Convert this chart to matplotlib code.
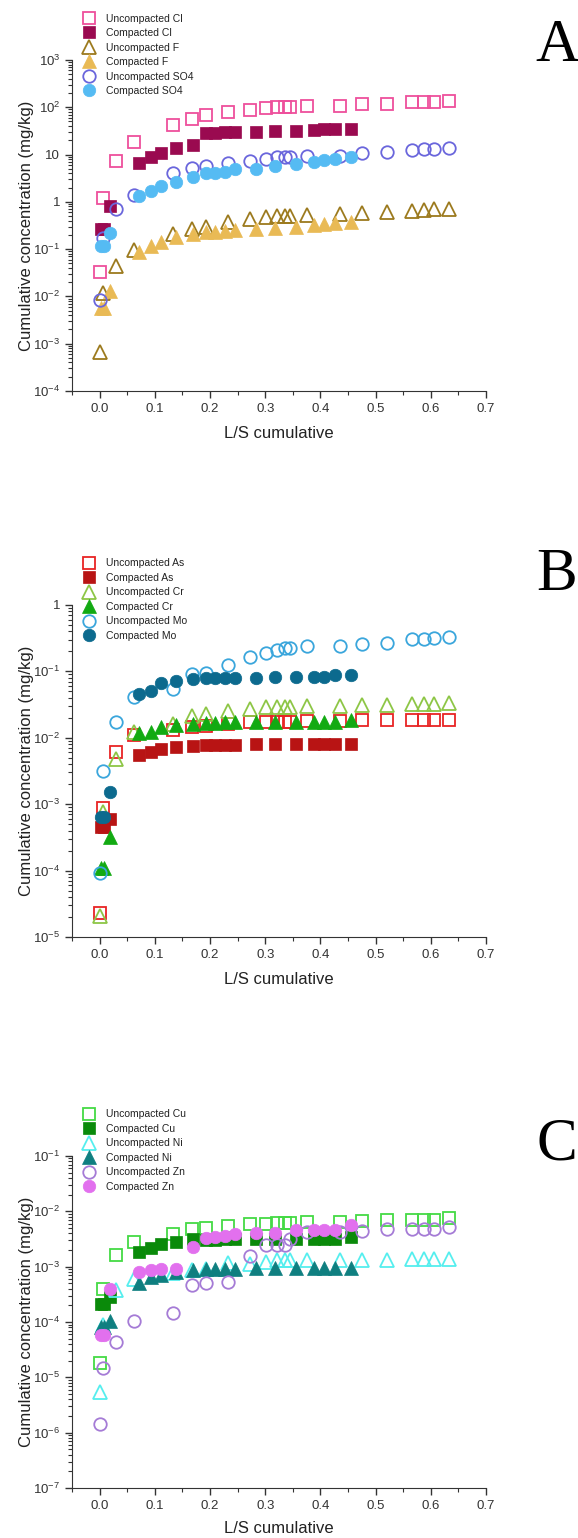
import numpy as np
import matplotlib.pyplot as plt
from matplotlib.ticker import LogLocator, FuncFormatter, MultipleLocator, NullFormatter

plt.rcParams['font.family'] = ['Liberation Sans', 'DejaVu Sans']
plt.rcParams['mathtext.default'] = 'regular'

# L/S cumulative sampling points
x_uncomp = [0.0, 0.007, 0.029, 0.062, 0.133, 0.167, 0.193, 0.233, 0.273, 0.302, 0.322,
            0.335, 0.344, 0.375, 0.435, 0.476, 0.52, 0.565, 0.587, 0.605, 0.633]
x_comp = [0.003, 0.008, 0.018, 0.071, 0.093, 0.111, 0.138, 0.169, 0.193, 0.209, 0.227,
          0.245, 0.284, 0.318, 0.355, 0.389, 0.407, 0.427, 0.455]

# Panel A (mg/kg)
unc_cl = [0.033, 1.2, 7.3, 18.6, 43, 56, 68, 78, 87, 97, 100, 101, 102, 107, 107, 117, 118, 130, 130, 131, 135]
com_cl = [0.27, 0.27, 0.82, 6.5, 8.9, 10.8, 13.8, 15.9, 28, 29, 30, 30, 30, 31, 32, 33.5, 34, 34, 35]
unc_f = [6.7e-4, 0.012, 0.044, 0.095, 0.21, 0.27, 0.30, 0.38, 0.43, 0.48, 0.49, 0.5, 0.5,
         0.53, 0.56, 0.58, 0.62, 0.65, 0.67, 0.69, 0.72]
com_f = [0.0057, 0.0057, 0.013, 0.087, 0.117, 0.14, 0.18, 0.21, 0.23, 0.235, 0.24, 0.25,
         0.27, 0.28, 0.30, 0.33, 0.34, 0.35, 0.38]
unc_so4 = [0.0085, 0.17, 0.7, 1.4, 4.1, 5.2, 5.8, 6.6, 7.3, 8.0, 8.9, 8.9, 8.9, 9.3, 9.5,
           10.7, 11.3, 12.6, 12.8, 13.0, 13.8]
com_so4 = [0.117, 0.117, 0.22, 1.3, 1.7, 2.2, 2.6, 3.4, 4.0, 4.1, 4.3, 5.0, 5.0, 5.8, 6.3,
           7.0, 7.5, 8.0, 8.9]

# Panel B (mg/kg)
unc_as = [2.3e-5, 8.7e-4, 6.1e-3, 0.011, 0.013, 0.0145, 0.015, 0.016, 0.017, 0.0175, 0.0175,
          0.0175, 0.0175, 0.018, 0.018, 0.0185, 0.0185, 0.0185, 0.0185, 0.0185, 0.0185]
com_as = [4.6e-4, 4.6e-4, 6.0e-4, 0.0054, 0.0062, 0.0068, 0.0073, 0.0075, 0.0078, 0.0078,
          0.0078, 0.0078, 0.008, 0.008, 0.008, 0.008, 0.008, 0.008, 0.008]
unc_cr = [2.1e-5, 7.6e-4, 0.0048, 0.012, 0.016, 0.021, 0.023, 0.025, 0.027, 0.029, 0.029,
          0.029, 0.029, 0.030, 0.030, 0.031, 0.031, 0.032, 0.032, 0.032, 0.033]
com_cr = [1.1e-4, 1.1e-4, 3.2e-4, 0.0118, 0.0123, 0.0145, 0.0155, 0.016, 0.0166, 0.0168,
          0.017, 0.017, 0.017, 0.017, 0.017, 0.017, 0.017, 0.0175, 0.0185]
unc_mo = [9.2e-5, 0.0032, 0.0174, 0.041, 0.054, 0.091, 0.095, 0.125, 0.165, 0.19, 0.21,
          0.225, 0.225, 0.24, 0.24, 0.26, 0.27, 0.31, 0.31, 0.32, 0.33]
com_mo = [6.5e-4, 6.5e-4, 0.0015, 0.046, 0.051, 0.067, 0.072, 0.076, 0.079, 0.08, 0.08,
          0.08, 0.08, 0.082, 0.083, 0.083, 0.083, 0.088, 0.088]

# Panel C (mg/kg)
unc_cu = [1.8e-5, 4.0e-4, 1.6e-3, 2.8e-3, 3.9e-3, 4.7e-3, 5.0e-3, 5.4e-3, 5.9e-3, 6.0e-3,
          6.1e-3, 6.1e-3, 6.1e-3, 6.4e-3, 6.4e-3, 6.6e-3, 6.9e-3, 6.9e-3, 7.0e-3, 7.0e-3, 7.6e-3]
com_cu = [2.1e-4, 2.1e-4, 2.8e-4, 1.85e-3, 2.2e-3, 2.6e-3, 2.8e-3, 3.2e-3, 3.0e-3, 3.0e-3,
          3.1e-3, 3.1e-3, 3.1e-3, 3.1e-3, 3.1e-3, 3.2e-3, 3.2e-3, 3.2e-3, 3.4e-3]
unc_ni = [5.4e-6, 9.0e-5, 3.8e-4, 6.0e-4, 7.8e-4, 8.7e-4, 9.0e-4, 1.17e-3, 1.1e-3, 1.2e-3,
          1.3e-3, 1.3e-3, 1.3e-3, 1.33e-3, 1.33e-3, 1.33e-3, 1.33e-3, 1.35e-3, 1.35e-3, 1.35e-3, 1.4e-3]
com_ni = [8.1e-5, 8.1e-5, 1.05e-4, 5.0e-4, 6.5e-4, 7.0e-4, 8.0e-4, 8.7e-4, 9.0e-4, 9.0e-4,
          9.0e-4, 9.0e-4, 9.3e-4, 9.3e-4, 9.3e-4, 9.3e-4, 9.3e-4, 9.3e-4, 9.3e-4]
unc_zn = [1.45e-6, 1.5e-5, 4.4e-5, 1.05e-4, 1.45e-4, 4.7e-4, 5.0e-4, 5.2e-4, 1.55e-3, 2.45e-3,
          2.45e-3, 2.5e-3, 3.2e-3, 4.2e-3, 4.2e-3, 4.4e-3, 4.8e-3, 4.8e-3, 4.8e-3, 4.8e-3, 5.2e-3]
com_zn = [5.7e-5, 5.7e-5, 4.0e-4, 8.1e-4, 8.8e-4, 9.0e-4, 9.0e-4, 2.3e-3, 3.3e-3, 3.4e-3,
          3.6e-3, 3.9e-3, 4.0e-3, 4.0e-3, 4.6e-3, 4.6e-3, 4.6e-3, 4.6e-3, 5.6e-3]

# (label, x, y, marker, color, filled)
panel_a = [
    ('Uncompacted Cl', x_uncomp, unc_cl, 's', '#EE4F9C', False),
    ('Compacted Cl', x_comp, com_cl, 's', '#9A0A50', True),
    ('Uncompacted F', x_uncomp, unc_f, '^', '#9C7A1E', False),
    ('Compacted F', x_comp, com_f, '^', '#E9BA55', True),
    ('Uncompacted SO4', x_uncomp, unc_so4, 'o', '#6A66DC', False),
    ('Compacted SO4', x_comp, com_so4, 'o', '#55BBF3', True),
]
panel_b = [
    ('Uncompacted As', x_uncomp, unc_as, 's', '#E82424', False),
    ('Compacted As', x_comp, com_as, 's', '#B81414', True),
    ('Uncompacted Cr', x_uncomp, unc_cr, '^', '#8DC646', False),
    ('Compacted Cr', x_comp, com_cr, '^', '#12AA12', True),
    ('Uncompacted Mo', x_uncomp, unc_mo, 'o', '#3AA6DC', False),
    ('Compacted Mo', x_comp, com_mo, 'o', '#0C6A8E', True),
]
panel_c = [
    ('Uncompacted Cu', x_uncomp, unc_cu, 's', '#44DA44', False),
    ('Compacted Cu', x_comp, com_cu, 's', '#0A8A0A', True),
    ('Uncompacted Ni', x_uncomp, unc_ni, '^', '#55EEEE', False),
    ('Compacted Ni', x_comp, com_ni, '^', '#0F7F80', True),
    ('Uncompacted Zn', x_uncomp, unc_zn, 'o', '#A57BD6', False),
    ('Compacted Zn', x_comp, com_zn, 'o', '#E270EE', True),
]

marker_size = {'s': 8, '^': 9.5, 'o': 9}


def log_label(v, pos):
    e = int(round(np.log10(v)))
    if e == 0:
        return '1'
    if e == 1:
        return '10'
    return r'$10^{%d}$' % e


def draw_panel(ax, series, ylim, xlabel_y=-0.105):
    for label, xs, ys, m, c, filled in series:
        if filled:
            ax.plot(xs, ys, ls='none', marker=m, ms=marker_size[m], color=c,
                    mec=c, mew=0.5, label=label)
        else:
            ax.plot(xs, ys, ls='none', marker=m, ms=marker_size[m], mfc='none',
                    mec=c, mew=1.3, label=label)

    ax.set_yscale('log')
    ax.set_ylim(*ylim)
    ax.set_xlim(-0.05, 0.7)
    ax.spines['top'].set_visible(False)
    ax.spines['right'].set_visible(False)
    for s in ('left', 'bottom'):
        ax.spines[s].set_color('#333333')

    ax.xaxis.set_major_locator(MultipleLocator(0.1))
    ax.xaxis.set_minor_locator(MultipleLocator(0.05))
    ax.xaxis.set_major_formatter(FuncFormatter(lambda v, p: '%.1f' % v))
    ax.yaxis.set_major_locator(LogLocator(base=10, numticks=20))
    ax.yaxis.set_minor_locator(LogLocator(base=10, subs=np.arange(2, 10), numticks=100))
    ax.yaxis.set_major_formatter(FuncFormatter(log_label))
    ax.yaxis.set_minor_formatter(NullFormatter())
    ax.tick_params(which='major', direction='out', length=5, width=1, labelsize=9.5,
                   color='#333333', labelcolor='#333333')
    ax.tick_params(which='minor', direction='out', length=3, width=0.8, color='#333333')

    ax.set_xlabel('L/S cumulative', fontsize=12, color='#222222')
    ax.set_ylabel('Cumulative concentration (mg/kg)', fontsize=12, color='#222222')
    ax.xaxis.set_label_coords(0.5, xlabel_y)
    ax.yaxis.set_label_coords(-0.093, 0.5)

    ax.legend(loc='upper left', bbox_to_anchor=(0.029, 1.14), frameon=False,
              fontsize=7.5, borderpad=0, borderaxespad=0, handlelength=1.0,
              handletextpad=1.1, labelspacing=0.43, labelcolor='#222222')


fig = plt.figure(figsize=(5.78, 15.38), dpi=100)
ax_a = fig.add_axes([0.1246, 0.7458, 0.7163, 0.2152])
ax_b = fig.add_axes([0.1246, 0.3908, 0.7163, 0.2159])
ax_c = fig.add_axes([0.1246, 0.0325, 0.7163, 0.2159])

draw_panel(ax_a, panel_a, (1e-4, 1e3))
draw_panel(ax_b, panel_b, (1e-5, 1))
draw_panel(ax_c, panel_c, (1e-7, 1e-1), xlabel_y=-0.098)

# panel letters (baseline positions in figure pixels from the top)
for letter, base_px in (('A', 61), ('B', 590), ('C', 1160)):
    fig.text(557 / 578, 1 - base_px / 1538, letter, fontsize=44,
             family='Liberation Serif', ha='center', va='baseline')

fig.savefig('out.png', dpi=100)
